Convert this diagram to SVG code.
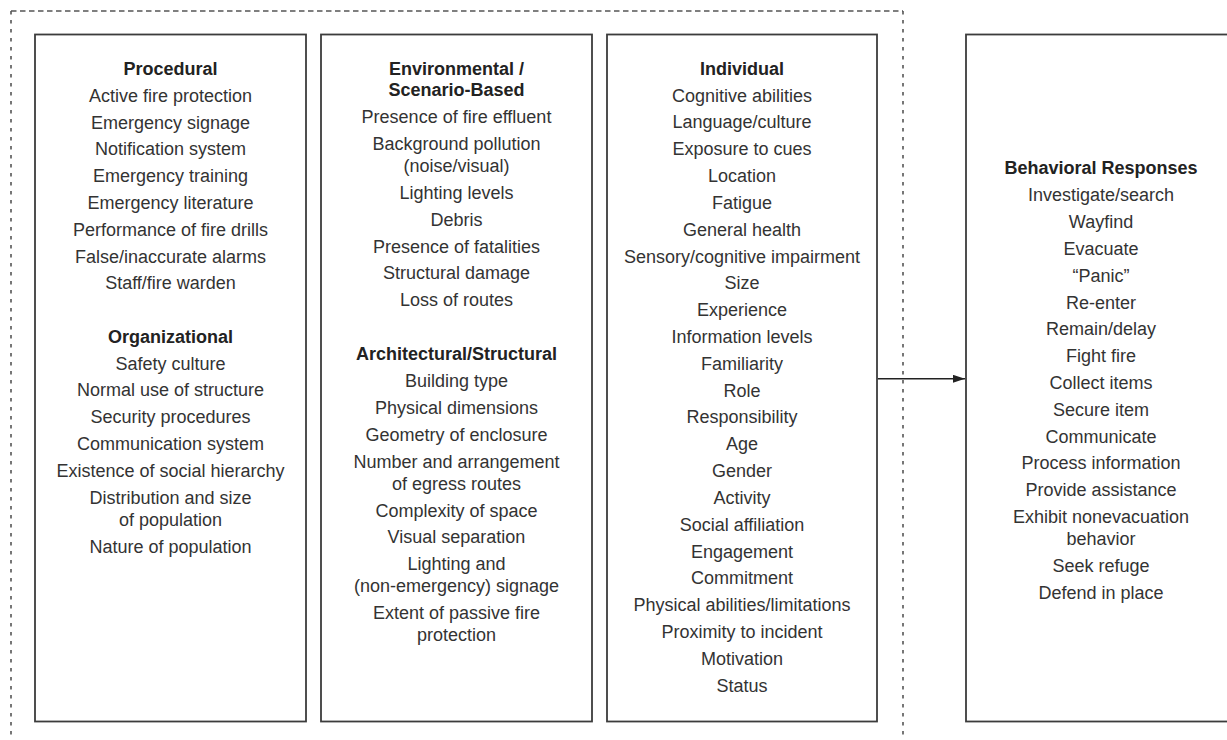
<svg xmlns="http://www.w3.org/2000/svg" width="1227" height="740" viewBox="0 0 1227 740">
<style>
  .box { fill: #ffffff; stroke: #3c3c3c; stroke-width: 1.8; }
  .t { font-family: "Liberation Sans", Arial, Helvetica, sans-serif; font-size: 18px; fill: #333333; text-anchor: middle; }
  .h { font-weight: bold; fill: #222222; }
  .dash-h { stroke: #555555; stroke-width: 1.4; stroke-dasharray: 5.5 3.5; fill: none; }
  .dash-v { stroke: #555555; stroke-width: 1.6; stroke-dasharray: 3.5 5.5; fill: none; }
  .conn { stroke: #222222; stroke-width: 1.5; fill: none; }
</style>
<defs>
  <marker id="arrow" viewBox="0 0 12 8" refX="12" refY="4" markerWidth="12" markerHeight="8" markerUnits="userSpaceOnUse" orient="auto">
    <path d="M0,0 L12,4 L0,8 Z" fill="#222222"/>
  </marker>
</defs>
<rect width="1227" height="740" fill="#ffffff"/>

<g id="influences-boundary">
  <line class="dash-h" x1="11" y1="11" x2="903" y2="11"/>
  <line class="dash-v" x1="11" y1="11" x2="11" y2="740"/>
  <line class="dash-v" x1="903" y1="11" x2="903" y2="740"/>
</g>

<g id="procedural-organizational">
  <rect class="box" x="35" y="34.5" width="271" height="687"/>
  <text class="t h" x="170.5" y="74.5">Procedural</text>
  <text class="t" x="170.5" y="101.5">Active fire protection</text>
  <text class="t" x="170.5" y="128.5">Emergency signage</text>
  <text class="t" x="170.5" y="155.3">Notification system</text>
  <text class="t" x="170.5" y="182">Emergency training</text>
  <text class="t" x="170.5" y="209">Emergency literature</text>
  <text class="t" x="170.5" y="235.6">Performance of fire drills</text>
  <text class="t" x="170.5" y="262.5">False/inaccurate alarms</text>
  <text class="t" x="170.5" y="289.3">Staff/fire warden</text>
  <text class="t h" x="170.5" y="343">Organizational</text>
  <text class="t" x="170.5" y="369.6">Safety culture</text>
  <text class="t" x="170.5" y="396.3">Normal use of structure</text>
  <text class="t" x="170.5" y="423.2">Security procedures</text>
  <text class="t" x="170.5" y="450">Communication system</text>
  <text class="t" x="170.5" y="476.8">Existence of social hierarchy</text>
  <text class="t" x="170.5" y="503.6">Distribution and size</text>
  <text class="t" x="170.5" y="525.5">of population</text>
  <text class="t" x="170.5" y="553.3">Nature of population</text>
</g>

<g id="environmental-architectural">
  <rect class="box" x="321" y="34.5" width="271" height="687"/>
  <text class="t h" x="456.5" y="74.5">Environmental /</text>
  <text class="t h" x="456.5" y="96.2">Scenario-Based</text>
  <text class="t" x="456.5" y="123.4">Presence of fire effluent</text>
  <text class="t" x="456.5" y="150.2">Background pollution</text>
  <text class="t" x="456.5" y="172">(noise/visual)</text>
  <text class="t" x="456.5" y="198.8">Lighting levels</text>
  <text class="t" x="456.5" y="225.8">Debris</text>
  <text class="t" x="456.5" y="252.6">Presence of fatalities</text>
  <text class="t" x="456.5" y="279.4">Structural damage</text>
  <text class="t" x="456.5" y="306.2">Loss of routes</text>
  <text class="t h" x="456.5" y="360.2">Architectural/Structural</text>
  <text class="t" x="456.5" y="387.2">Building type</text>
  <text class="t" x="456.5" y="414">Physical dimensions</text>
  <text class="t" x="456.5" y="441">Geometry of enclosure</text>
  <text class="t" x="456.5" y="467.8">Number and arrangement</text>
  <text class="t" x="456.5" y="489.5">of egress routes</text>
  <text class="t" x="456.5" y="516.7">Complexity of space</text>
  <text class="t" x="456.5" y="543.4">Visual separation</text>
  <text class="t" x="456.5" y="570.3">Lighting and</text>
  <text class="t" x="456.5" y="592">(non-emergency) signage</text>
  <text class="t" x="456.5" y="619.3">Extent of passive fire</text>
  <text class="t" x="456.5" y="641">protection</text>
</g>

<g id="individual">
  <rect class="box" x="607" y="34.5" width="270" height="687"/>
  <text class="t h" x="742" y="74.5">Individual</text>
  <text class="t" x="742" y="101.5">Cognitive abilities</text>
  <text class="t" x="742" y="128.4">Language/culture</text>
  <text class="t" x="742" y="155.2">Exposure to cues</text>
  <text class="t" x="742" y="182">Location</text>
  <text class="t" x="742" y="208.8">Fatigue</text>
  <text class="t" x="742" y="235.6">General health</text>
  <text class="t" x="742" y="262.5">Sensory/cognitive impairment</text>
  <text class="t" x="742" y="289.3">Size</text>
  <text class="t" x="742" y="316.1">Experience</text>
  <text class="t" x="742" y="343">Information levels</text>
  <text class="t" x="742" y="369.8">Familiarity</text>
  <text class="t" x="742" y="396.6">Role</text>
  <text class="t" x="742" y="423.4">Responsibility</text>
  <text class="t" x="742" y="450.3">Age</text>
  <text class="t" x="742" y="477.1">Gender</text>
  <text class="t" x="742" y="503.9">Activity</text>
  <text class="t" x="742" y="530.8">Social affiliation</text>
  <text class="t" x="742" y="557.6">Engagement</text>
  <text class="t" x="742" y="584.4">Commitment</text>
  <text class="t" x="742" y="611.2">Physical abilities/limitations</text>
  <text class="t" x="742" y="638">Proximity to incident</text>
  <text class="t" x="742" y="664.9">Motivation</text>
  <text class="t" x="742" y="691.7">Status</text>
</g>

<g id="behavioral-responses">
  <rect class="box" x="966" y="34.5" width="270" height="687"/>
  <text class="t h" x="1101" y="174.3">Behavioral Responses</text>
  <text class="t" x="1101" y="201.2">Investigate/search</text>
  <text class="t" x="1101" y="228">Wayfind</text>
  <text class="t" x="1101" y="254.8">Evacuate</text>
  <text class="t" x="1101" y="281.6">“Panic”</text>
  <text class="t" x="1101" y="308.5">Re-enter</text>
  <text class="t" x="1101" y="335.3">Remain/delay</text>
  <text class="t" x="1101" y="362.1">Fight fire</text>
  <text class="t" x="1101" y="388.9">Collect items</text>
  <text class="t" x="1101" y="415.7">Secure item</text>
  <text class="t" x="1101" y="442.5">Communicate</text>
  <text class="t" x="1101" y="469.3">Process information</text>
  <text class="t" x="1101" y="496.1">Provide assistance</text>
  <text class="t" x="1101" y="522.9">Exhibit nonevacuation</text>
  <text class="t" x="1101" y="544.6">behavior</text>
  <text class="t" x="1101" y="572">Seek refuge</text>
  <text class="t" x="1101" y="598.8">Defend in place</text>
</g>

<g id="connectors">
  <line class="conn" x1="877.9" y1="378.8" x2="965" y2="378.8" marker-end="url(#arrow)"/>
</g>
</svg>
